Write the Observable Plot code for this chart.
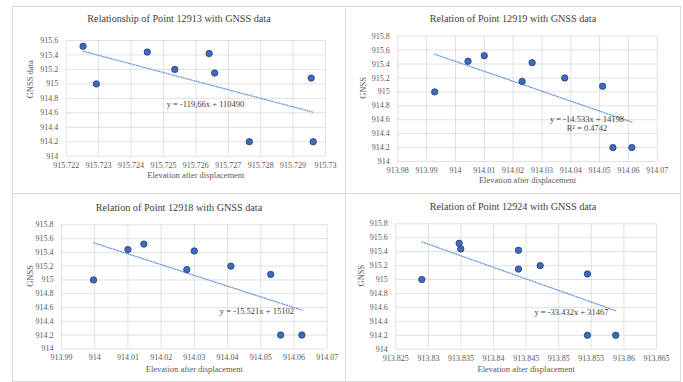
<!DOCTYPE html>
<html><head><meta charset="utf-8">
<script src="https://cdn.jsdelivr.net/npm/d3@7"></script>
<script src="https://cdn.jsdelivr.net/npm/@observablehq/plot@0.6"></script>
<style>
body{margin:0;background:#fff;}
#wrap{position:relative;width:683px;height:382px;overflow:hidden;font-family:"Liberation Serif","Times New Roman",serif;}
.box{position:absolute;border:1px solid #d9d9d9;box-sizing:border-box;}
.holder{position:absolute;}
.title{position:absolute;text-align:center;font-size:10.2px;line-height:12px;color:#404040;white-space:nowrap;}
</style></head><body><div id="wrap"></div>
<script>
// GNSS values (same points in every panel, same order)
const gnss = [915.0, 915.44, 915.52, 915.15, 915.42, 915.2, 915.08, 914.2, 914.2];
// Elevation after displacement, per point
const elev12913 = [915.72293, 915.72450, 915.72252, 915.72658, 915.72641, 915.72535, 915.72956, 915.72765, 915.72962];
const elev12919 = [913.99280, 914.00436, 914.01000, 914.02315, 914.02661, 914.03792, 914.05107, 914.05464, 914.06121];
const elev12918 = [913.99964, 914.01000, 914.01479, 914.02774, 914.02997, 914.04100, 914.05300, 914.05600, 914.06238];
const elev12924 = [913.82899, 913.83497, 913.83472, 913.84382, 913.84382, 913.84715, 913.85440, 913.85440, 913.85874];
// Tick labels
const xTicks12913 = [915.722, 915.723, 915.724, 915.725, 915.726, 915.727, 915.728, 915.729, 915.73];
const xTicks12919 = [913.98, 913.99, 914, 914.01, 914.02, 914.03, 914.04, 914.05, 914.06, 914.07];
const xTicks12918 = [913.99, 914, 914.01, 914.02, 914.03, 914.04, 914.05, 914.06, 914.07];
const xTicks12924 = [913.825, 913.83, 913.835, 913.84, 913.845, 913.85, 913.855, 913.86, 913.865];
const yTicks16 = [914, 914.2, 914.4, 914.6, 914.8, 915, 915.2, 915.4, 915.6];
const yTicks18 = [914, 914.2, 914.4, 914.6, 914.8, 915, 915.2, 915.4, 915.6, 915.8];
// Titles, labels, trendline equations
const titles = ["Relationship of Point 12913 with GNSS data", "Relation of Point 12919 with GNSS data",
                "Relation of Point 12918 with GNSS data", "Relation of Point 12924 with GNSS data"];
const yLabels = ["GNSS data", "GNSS", "GNSS", "GNSS"];
const xLabel = "Elevation after displacement";
const equations = ["y = -119,66x + 110490", "y = -14.533x + 14198\nR² = 0.4742", "y = -15.521x + 15102", "y = -33.432x + 31467"];
const eqX = [915.7251, 914.04564, 914.03768, 913.84627];
const eqY = [914.715, 914.549, 914.546, 914.537];

const panels = [
  {elev: elev12913, xt: xTicks12913, yt: yTicks16, left: 12, top: 6, w: 334, h: 188, mL: 53.7, mR: 21, mT: 34, mB: 38.3, titleY: 13, xlab: 21.3, ylab: 35.7, anchor: "start"},
  {elev: elev12919, xt: xTicks12919, yt: yTicks18, left: 345, top: 6, w: 336, h: 188, mL: 52.3, mR: 24.3, mT: 29.7, mB: 33, titleY: 13.3, xlab: 21.7, ylab: 34.6, anchor: "middle"},
  {elev: elev12918, xt: xTicks12918, yt: yTicks18, left: 12, top: 193, w: 334, h: 189, mL: 49, mR: 19.3, mT: 31.3, mB: 33.7, titleY: 15.3, xlab: 23.4, ylab: 31.7, anchor: "start"},
  {elev: elev12924, xt: xTicks12924, yt: yTicks18, left: 345, top: 193, w: 336, h: 189, mL: 50.3, mR: 25, mT: 30.3, mB: 33.3, titleY: 13.7, xlab: 23, ylab: 34.6, anchor: "start"}
];

const fmt = d => String(+d.toFixed(4));
const wrap = document.getElementById("wrap");
const font = "Liberation Serif";

panels.forEach((p, i) => {
  const data = p.elev.map((e, k) => ({x: e, y: gnss[k]}));
  const xDom = [p.xt[0], p.xt[p.xt.length - 1]];
  const yDom = [p.yt[0], p.yt[p.yt.length - 1]];
  const chart = Plot.plot({
    width: p.w, height: p.h,
    marginLeft: p.mL, marginRight: p.mR, marginTop: p.mT, marginBottom: p.mB,
    style: {fontFamily: font, fontSize: "8px", color: "#595959", background: "transparent", overflow: "visible"},
    x: {domain: xDom, label: null},
    y: {domain: yDom, label: null},
    marks: [
      Plot.gridX(p.xt, {stroke: "#d9d9d9", strokeOpacity: 1, strokeWidth: 0.8}),
      Plot.gridY(p.yt, {stroke: "#d9d9d9", strokeOpacity: 1, strokeWidth: 0.8}),
      Plot.axisX(p.xt, {tickSize: 0, tickPadding: 6, tickFormat: fmt, fill: "#595959", label: null}),
      Plot.axisY(p.yt, {tickSize: 0, tickPadding: 8, tickFormat: fmt, fill: "#595959", label: null}),
      Plot.linearRegressionY(data, {x: "x", y: "y", ci: 0, stroke: "#6a94dc", strokeWidth: 1.3, strokeDasharray: "1,1.6"}),
      Plot.dot(data, {x: "x", y: "y", r: 3.2, fill: "#3d6bbf", stroke: "#243f73", strokeWidth: 0.8}),
      Plot.text([equations[i]], {x: () => eqX[i], y: () => eqY[i], text: d => d, textAnchor: p.anchor, fontSize: 8.5, fill: "#404040", lineHeight: 1.1}),
      Plot.text([xLabel], {frameAnchor: "bottom", dy: p.xlab, text: d => d, fontSize: 8.5, fill: "#595959"}),
      Plot.text([yLabels[i]], {frameAnchor: "left", dx: -p.ylab, rotate: -90, text: d => d, fontSize: 8.5, fill: "#595959"})
    ]
  });
  const holder = document.createElement("div");
  holder.className = "holder";
  holder.style.left = p.left + "px"; holder.style.top = p.top + "px";
  holder.appendChild(chart);
  wrap.appendChild(holder);
  const t = document.createElement("div");
  t.className = "title";
  t.style.left = p.left + "px"; t.style.width = p.w + "px";
  t.style.top = (p.top + p.titleY - 6) + "px";
  t.textContent = titles[i];
  wrap.appendChild(t);
  const b = document.createElement("div");
  b.className = "box";
  b.style.left = p.left + "px"; b.style.top = p.top + "px";
  b.style.width = p.w + "px"; b.style.height = p.h + "px";
  wrap.appendChild(b);
});
</script></body></html>
